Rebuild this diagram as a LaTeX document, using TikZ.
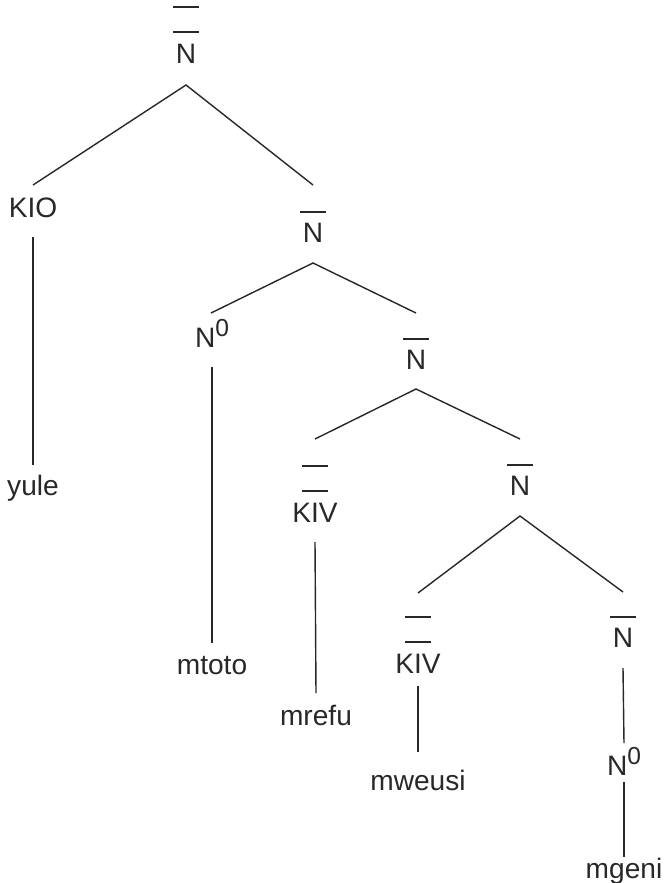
\documentclass[tikz,border=0pt]{standalone}
\usepackage{fontspec}
\setmainfont{Liberation Sans}
\usetikzlibrary{calc}
\definecolor{ink}{RGB}{40,40,40}
\newcommand{\zero}{\raisebox{6pt}{\fontsize{14}{16}\selectfont 0}}

\begin{document}
\begin{tikzpicture}[x=0.02cm, y=-0.02cm,
    lbl/.style={anchor=base, inner sep=0pt, text=ink, font=\fontsize{16}{19}\selectfont},
    branch/.style={draw=ink, line width=0.8pt},
    barline/.style={draw=ink, line width=0.7pt}]
    \useasboundingbox (0,0) rectangle (667,883);

    % Categories
    \node[lbl] (n1) at (186,63) {N};
    \node[lbl] (kio) at (33,217) {KIO};
    \node[lbl] (n2) at (313,242) {N};
    \node[lbl] (n0a) at (212,347) {N\zero};
    \node[lbl] (n3) at (416,369) {N};
    \node[lbl] (kiv1) at (315,522) {KIV};
    \node[lbl] (n4) at (520,495) {N};
    \node[lbl] (kiv2) at (418,673) {KIV};
    \node[lbl] (n5) at (623,647) {N};
    \node[lbl] (n0b) at (624,775) {N\zero};

    % Words
    \node[lbl] (yule) at (33,495) {yule};
    \node[lbl] (mtoto) at (212,674) {mtoto};
    \node[lbl] (mrefu) at (316,725) {mrefu};
    \node[lbl] (mweusi) at (418,790) {mweusi};
    \node[lbl] (mgeni) at (624,878) {mgeni};

    % Bars
    \foreach \n in {n2,n3,n4,n5}
        \draw[barline] ($(\n.base)+(-13,-30)$) -- ++(26,0);
    \foreach \n in {n1,kiv1,kiv2} {
        \draw[barline] ($(\n.base)+(-13,-31)$) -- ++(26,0);
        \draw[barline] ($(\n.base)+(-13,-56)$) -- ++(26,0);
    }

    % Branching
    \draw[branch] ($(kio.base)+(0,-32)$) -- ($(n1.base)+(0,22)$) -- ($(n2.base)+(0,-57)$);
    \draw[branch] ($(n0a.base)+(-1,-34)$) -- ($(n2.base)+(0,21)$) -- ($(n3.base)+(0,-56)$);
    \draw[branch] ($(kiv1.base)+(0,-83)$) -- ($(n3.base)+(0,20)$) -- ($(n4.base)+(0,-56)$);
    \draw[branch] ($(kiv2.base)+(0,-80)$) -- ($(n4.base)+(0,21)$) -- ($(n5.base)+(0,-55)$);

    % Unary lines down to the words
    \draw[branch] ($(kio.base)+(0,20)$) -- ($(yule.base)+(0,-30)$);
    \draw[branch] ($(n0a.base)+(0,20)$) -- ($(mtoto.base)+(0,-31)$);
    \draw[branch] ($(kiv1.base)+(0,20)$) -- ($(mrefu.base)+(0,-32)$);
    \draw[branch] ($(kiv2.base)+(0,13)$) -- ($(mweusi.base)+(0,-38)$);
    \draw[branch] ($(n5.base)+(0,21)$) -- ($(n0b.base)+(0,-32)$);
    \draw[branch] ($(n0b.base)+(0,7)$) -- ($(mgeni.base)+(0,-21)$);
\end{tikzpicture}
\end{document}
